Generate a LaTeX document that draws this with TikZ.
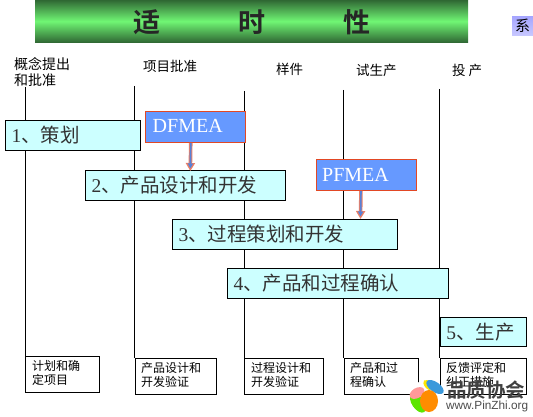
\documentclass[tikz,border=0pt]{standalone}
\usepackage{fontspec}
\setmainfont{Liberation Serif}
\newfontfamily\cjk{Noto Sans CJK SC}
\newfontfamily\cjkb{Noto Sans CJK SC Bold}
\newfontfamily\lsans{Liberation Sans}
\usetikzlibrary{arrows.meta}
\definecolor{boxcyan}{RGB}{204,255,255}
\definecolor{fmeablue}{RGB}{102,153,255}
\definecolor{fmeared}{RGB}{226,72,36}
\definecolor{bangreen}{RGB}{112,246,116}
\definecolor{bandark}{RGB}{48,105,52}
\tikzset{
  vline/.style={draw=black,line width=0.9pt},
  stage/.style={rectangle,draw=black,line width=0.9pt,fill=boxcyan,anchor=north west,inner sep=0pt},
  stagetext/.style={anchor=west,inner sep=0pt,text=black!80,font=\fontsize{19.5}{22}\selectfont},
  fmea/.style={rectangle,draw=fmeared,line width=0.9pt,fill=fmeablue,anchor=north west,
    minimum width=100pt,minimum height=31pt,inner sep=0pt},
  fmeatext/.style={anchor=west,inner sep=0pt,text=white,font=\fontsize{20}{22}\selectfont},
  output/.style={rectangle,draw=black,line width=0.8pt,fill=white,anchor=north west,minimum height=36pt,inner sep=0pt},
  outtext/.style={anchor=north west,inner sep=0pt,align=left,font=\cjk\fontsize{12}{14}\selectfont},
  gate/.style={anchor=west,inner sep=0pt,font=\cjk\fontsize{13.5}{16}\selectfont,align=left},
  ban/.style={inner sep=0pt,font=\cjkb\fontsize{27}{30}\selectfont,text=black!85},
  arrowouter/.style={draw=fmeared!70,line width=3.6pt,-{Triangle[width=9pt,length=8pt]}},
  arrowinner/.style={draw=fmeablue!85!black,line width=1.7pt,-{Triangle[width=5pt,length=5pt]},shorten >=2.5pt},
  petal/.style={line width=0pt}
}
\newcommand{\stagebox}[6]{%
  \node[stage,minimum width=#3pt,minimum height=#4pt] (#5) at (#1,#2) {};
  \node[stagetext] (#5t) at ([xshift=6.5pt]#5.west) {#6};
}
\begin{document}
\begin{tikzpicture}[x=1pt,y=-1pt]
\useasboundingbox (0,0) rectangle (533,417);
% banner
\node[rectangle,anchor=north west,minimum width=433pt,minimum height=42pt,inner sep=0pt,
  top color=bandark,bottom color=bandark,middle color=bangreen] (banner) at (35,0) {};
\node[ban] (t1) at (147,22.5) {适};
\node[ban] (t2) at (252,22.5) {时};
\node[ban] (t3) at (357,22.5) {性};
% side tab
\node[rectangle,anchor=north west,minimum width=21pt,minimum height=19pt,inner sep=0pt,
  top color=blue!35!white,bottom color=blue!22!white,font=\cjk\fontsize{15}{17}\selectfont] (tab) at (512,16) {系};
% gate labels
\node[gate,anchor=north west,font=\cjk\fontsize{14}{16}\selectfont] (g1) at (14,57) {概念提出\\和批准};
\node[gate] (g2) at (143,66) {项目批准};
\node[gate] (g3) at (276,69) {样件};
\node[gate] (g4) at (356,70) {试生产};
\node[gate] (g5) at (452,70) {投 产};
% review boxes
\node[output,minimum width=74pt] (o1) at (25,356) {};
\node[outtext] (o1t) at (32,360) {计划和确\\定项目};
\node[output,minimum width=81pt] (o2) at (134.5,358) {};
\node[outtext] (o2t) at (141,362) {产品设计和\\开发验证};
\node[output,minimum width=79pt] (o3) at (244,358) {};
\node[outtext] (o3t) at (251,362) {过程设计和\\开发验证};
\node[output,minimum width=74.5pt] (o4) at (343.5,358.3) {};
\node[outtext] (o4t) at (350,362) {产品和过\\程确认};
\node[output,minimum width=86pt] (o5) at (439.6,358.3) {};
\node[outtext] (o5t) at (446,362) {反馈评定和\\纠正措施};
% vertical timeline lines
\coordinate (v1) at (25,87);
\coordinate (v2) at (134.5,86);
\coordinate (v3) at (244,91);
\coordinate (v4) at (343.5,90);
\coordinate (v5) at (439.6,89);
\draw[vline] (v1) -- (o1.north west);
\draw[vline] (v2) -- (o2.north west);
\draw[vline] (v3) -- (o3.north west);
\draw[vline] (v4) -- (o4.north west);
\draw[vline] (v5) -- (o5.north west);
% stage bars
\stagebox{5}{120}{135}{30}{s1}{1{\cjk 、策划}}
\stagebox{85}{170}{200}{30}{s2}{2{\cjk 、产品设计和开发}}
\stagebox{172}{219}{224.5}{30}{s3}{3{\cjk 、过程策划和开发}}
\stagebox{227}{268}{220.5}{30}{s4}{4{\cjk 、产品和过程确认}}
\stagebox{439.6}{316.7}{86.5}{29.5}{s5}{5{\cjk 、生产}}
% FMEA boxes
\node[fmea] (d) at (145,111) {};
\node[fmeatext] (dt) at (152.5,126) {DFMEA};
\node[fmea] (p) at (315.5,159) {};
\node[fmeatext] (pt) at (322,174.5) {PFMEA};
\coordinate (d2) at (190.3,171);
\coordinate (p2) at (360.5,219);
\draw[arrowouter] ([xshift=-4.7pt]d.south) -- (d2);
\draw[arrowinner] ([xshift=-4.7pt]d.south) -- (d2);
\draw[arrowouter] ([xshift=-5pt]p.south) -- (p2);
\draw[arrowinner] ([xshift=-5pt]p.south) -- (p2);
% watermark
\fill[petal,white] (427,397) circle (17pt);
\fill[petal,green!60!yellow!90!black,rotate around={-55:(418,403)}] (418,403) ellipse (11pt and 6pt);
\fill[petal,pink!80!red,rotate around={30:(417,393)}] (417,393) ellipse (8pt and 5pt);
\fill[petal,yellow!90!orange,rotate around={-50:(428,385)}] (428,385) ellipse (6pt and 3.5pt);
\fill[petal,cyan!70!blue!80!white,rotate around={-35:(435,387)}] (435,387) ellipse (10pt and 5pt);
\fill[petal,orange!90!yellow] (429,401) ellipse (9pt and 11pt);
\node[anchor=west,inner sep=0pt,font=\cjkb\fontsize{19.5}{21}\selectfont,text=black!75] (w1) at (447,390) {品质协会};
\node[anchor=west,inner sep=0pt,font=\lsans\fontsize{11.8}{13}\selectfont,text=black!70] (w2) at (446,406) {www.PinZhi.org};
\end{tikzpicture}
\end{document}
